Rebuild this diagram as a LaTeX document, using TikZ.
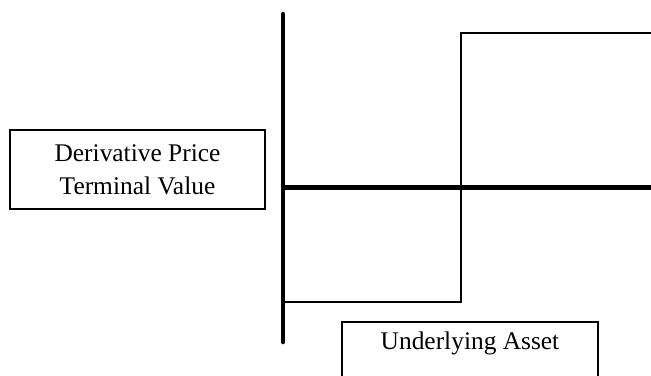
\documentclass[tikz,border=0pt]{standalone}
\usepackage{fontspec}
\setmainfont{Liberation Serif}
\begin{document}
\begin{tikzpicture}[x=1bp,y=-1bp,
  axis/.style={line width=4.5bp,line cap=round},
  payoff/.style={line width=2.6bp},
  boxline/.style={line width=2bp},
  lbl/.style={font=\fontsize{25.5}{33}\selectfont,align=center,inner sep=0pt}]
\useasboundingbox (0,0) rectangle (651,375);
\clip (0,0) rectangle (651,375);
% left box
\node[lbl,draw,boxline,minimum width=255bp,minimum height=79bp] (dp) at (137.5,169.5) {Derivative Price\\Terminal Value};
% axes
\coordinate (atop) at (283,14);
\coordinate (abot) at (283,342);
\draw[axis] (atop) -- (abot);
\coordinate (hl) at (283,187);
\coordinate (hr) at (655,187);
\draw[line width=5bp] (hl) -- (hr);
% payoff step
\coordinate (p0) at (283,302);
\coordinate (p1) at (461,302);
\coordinate (p2) at (461,33);
\coordinate (p3) at (655,33);
\draw[payoff] (p0) -- (p1) -- (p2) -- (p3);
% underlying asset box (cut by page edge)
\node[lbl] (ua) at (470,343) {Underlying Asset};
\coordinate (u1) at (342,385);
\coordinate (u2) at (342,322);
\coordinate (u3) at (598,322);
\coordinate (u4) at (598,385);
\draw[boxline] (u1) -- (u2) -- (u3) -- (u4);
\end{tikzpicture}
\end{document}
